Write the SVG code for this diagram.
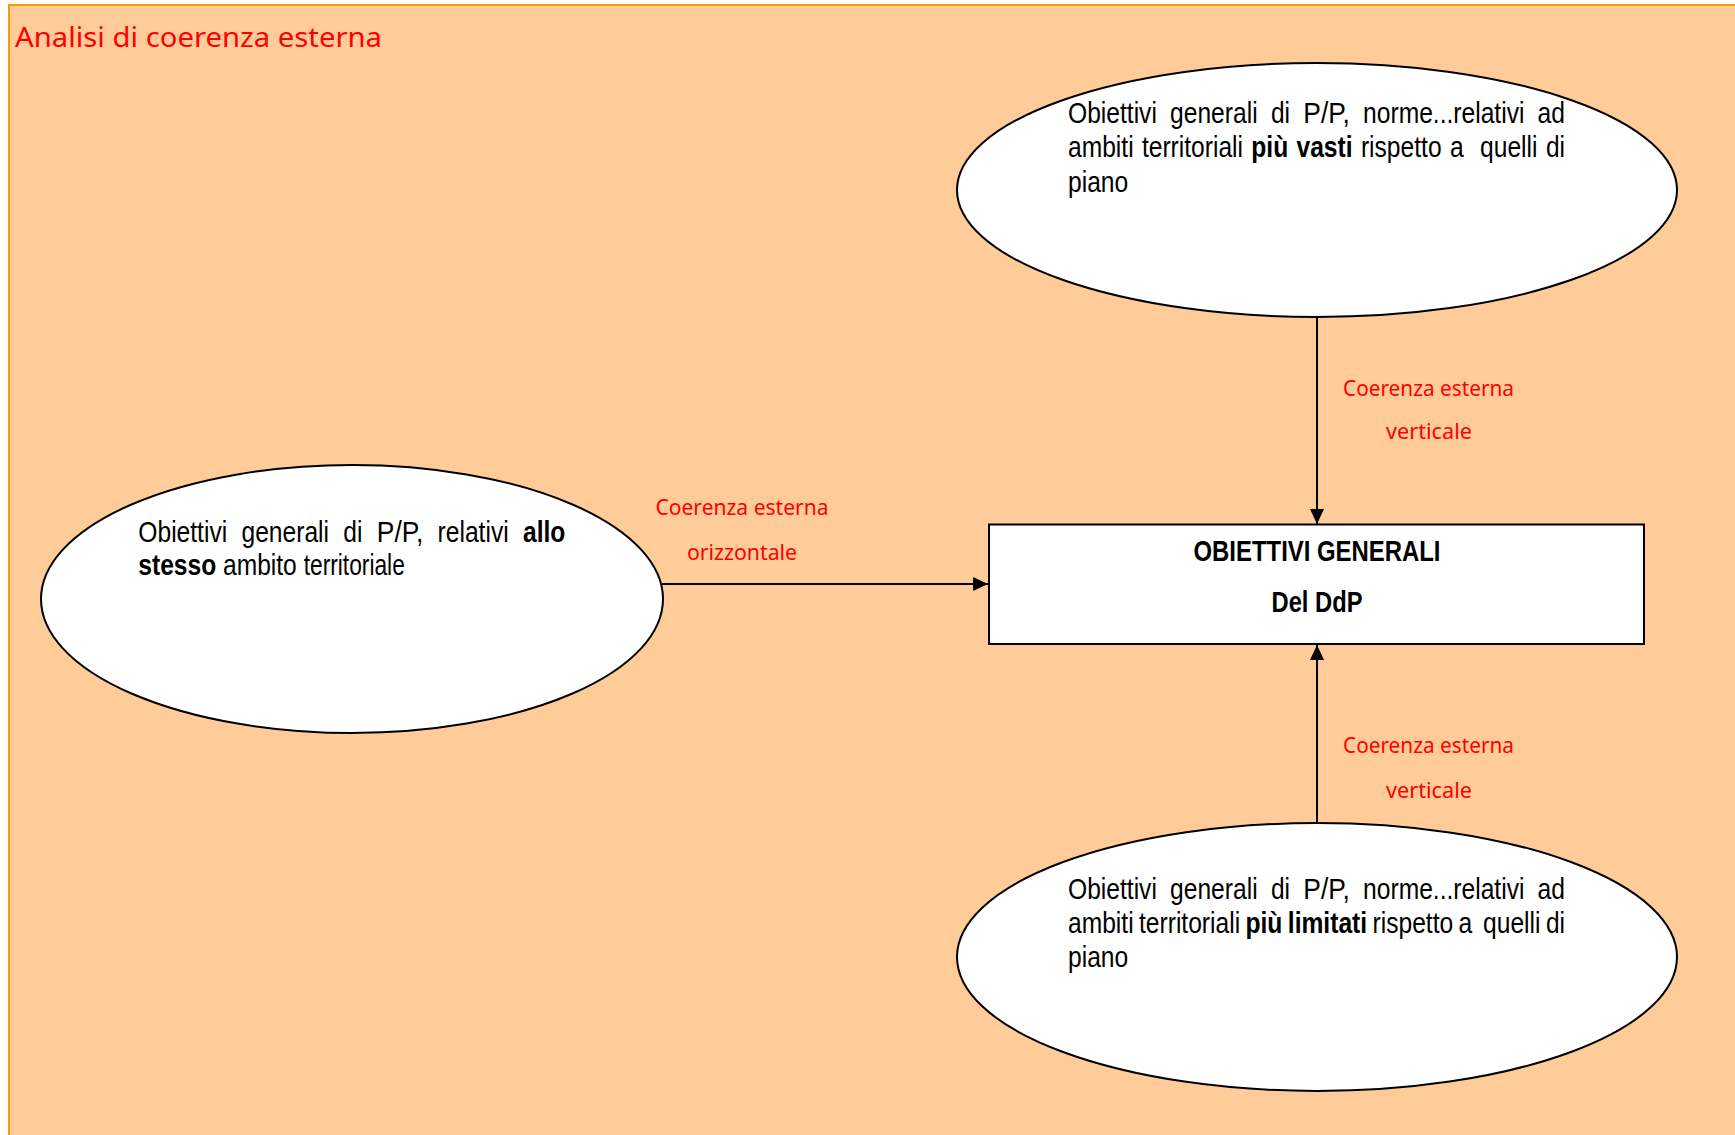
<svg xmlns="http://www.w3.org/2000/svg" width="1735" height="1135" viewBox="0 0 1735 1135">
<style>
.node{fill:#FFFFFF;stroke:#000000;stroke-width:2}
.body{font-family:"Liberation Sans Narrow","Arial Narrow","Liberation Sans",Arial,sans-serif;font-size:30px;fill:#000000}
.b{font-weight:bold}
.red{font-family:"Comic Sans MS","Noto Sans","DejaVu Sans",sans-serif;fill:#FF0000}
.lab{font-size:21px;text-anchor:middle}
.edge{stroke:#000000;stroke-width:2;fill:none;marker-end:url(#arr)}
</style>
<defs>
<marker id="arr" markerUnits="userSpaceOnUse" markerWidth="16" markerHeight="14" refX="15" refY="7" orient="auto">
<path d="M0,0 L15,7 L0,14 Z" fill="#000000"/>
</marker>
</defs>
<rect x="9" y="5" width="1740" height="1140" fill="#FFCC99" stroke="#FF9900" stroke-width="2"/>
<text class="red" x="15" y="47" font-size="28" textLength="367" lengthAdjust="spacingAndGlyphs">Analisi di coerenza esterna</text>

<g id="connectors">
<line class="edge" x1="1317" y1="317" x2="1317" y2="524"/>
<line class="edge" x1="1317" y1="823" x2="1317" y2="645"/>
<line class="edge" x1="662" y1="584" x2="988" y2="584"/>
<text class="red lab" x="1428.5" y="395.5" textLength="171" lengthAdjust="spacingAndGlyphs">Coerenza esterna</text>
<text class="red lab" x="1429" y="439" textLength="86" lengthAdjust="spacingAndGlyphs">verticale</text>
<text class="red lab" x="1428.5" y="753" textLength="171" lengthAdjust="spacingAndGlyphs">Coerenza esterna</text>
<text class="red lab" x="1429" y="798" textLength="86" lengthAdjust="spacingAndGlyphs">verticale</text>
<text class="red lab" x="742" y="515" textLength="173" lengthAdjust="spacingAndGlyphs">Coerenza esterna</text>
<text class="red lab" x="742" y="560" textLength="110" lengthAdjust="spacingAndGlyphs">orizzontale</text>
</g>

<g id="node-top">
<ellipse class="node" cx="1317" cy="190" rx="360" ry="127"/>
<text class="body" y="123" lengthAdjust="spacingAndGlyphs"><tspan x="1068" textLength="88.9" lengthAdjust="spacingAndGlyphs">Obiettivi</tspan><tspan x="1170.1" textLength="87.5" lengthAdjust="spacingAndGlyphs">generali</tspan><tspan x="1270.9" textLength="19.1" lengthAdjust="spacingAndGlyphs">di</tspan><tspan x="1303.3" textLength="46.5" lengthAdjust="spacingAndGlyphs">P/P,</tspan><tspan x="1363.1" textLength="161.3" lengthAdjust="spacingAndGlyphs">norme...relativi</tspan><tspan x="1537.6" textLength="27.4" lengthAdjust="spacingAndGlyphs">ad</tspan></text>
<text class="body" y="157"><tspan x="1068" textLength="65.6" lengthAdjust="spacingAndGlyphs">ambiti</tspan><tspan x="1141.9" textLength="101.1" lengthAdjust="spacingAndGlyphs">territoriali</tspan><tspan x="1251.3" class="b" textLength="36.9" lengthAdjust="spacingAndGlyphs">più</tspan><tspan x="1296.5" class="b" textLength="56.1" lengthAdjust="spacingAndGlyphs">vasti</tspan><tspan x="1360.9" textLength="80.7" lengthAdjust="spacingAndGlyphs">rispetto</tspan><tspan x="1449.9" textLength="13.7" lengthAdjust="spacingAndGlyphs">a</tspan><tspan x="1480.1" textLength="57.4" lengthAdjust="spacingAndGlyphs">quelli</tspan><tspan x="1545.9" textLength="19.1" lengthAdjust="spacingAndGlyphs">di</tspan></text>
<text class="body" x="1068" y="191.5" textLength="60.2" lengthAdjust="spacingAndGlyphs">piano</text>
</g>

<g id="node-left">
<ellipse class="node" cx="352" cy="599" rx="311" ry="134"/>
<text class="body" y="541.5"><tspan x="138.3" textLength="88.9" lengthAdjust="spacingAndGlyphs">Obiettivi</tspan><tspan x="241.5" textLength="87.5" lengthAdjust="spacingAndGlyphs">generali</tspan><tspan x="343.3" textLength="19.1" lengthAdjust="spacingAndGlyphs">di</tspan><tspan x="376.8" textLength="46.5" lengthAdjust="spacingAndGlyphs">P/P,</tspan><tspan x="437.6" textLength="71.1" lengthAdjust="spacingAndGlyphs">relativi</tspan><tspan x="523" class="b" textLength="42.4" lengthAdjust="spacingAndGlyphs">allo</tspan></text>
<text class="body" y="575"><tspan x="138.3" class="b" textLength="77.9" lengthAdjust="spacingAndGlyphs">stesso</tspan><tspan x="223" textLength="73.8" lengthAdjust="spacingAndGlyphs">ambito</tspan><tspan x="303.7" textLength="101.1" lengthAdjust="spacingAndGlyphs">territoriale</tspan></text>
</g>

<g id="node-center">
<rect class="node" x="989" y="524.5" width="655" height="119.5"/>
<text class="body b" x="1317" y="561" text-anchor="middle" font-size="29" textLength="247" lengthAdjust="spacingAndGlyphs">OBIETTIVI GENERALI</text>
<text class="body b" x="1317" y="612" text-anchor="middle" font-size="29" textLength="91" lengthAdjust="spacingAndGlyphs">Del DdP</text>
</g>

<g id="node-bottom">
<ellipse class="node" cx="1317" cy="957" rx="360" ry="134"/>
<text class="body" y="898.5"><tspan x="1068" textLength="88.9" lengthAdjust="spacingAndGlyphs">Obiettivi</tspan><tspan x="1170.1" textLength="87.5" lengthAdjust="spacingAndGlyphs">generali</tspan><tspan x="1270.9" textLength="19.1" lengthAdjust="spacingAndGlyphs">di</tspan><tspan x="1303.3" textLength="46.5" lengthAdjust="spacingAndGlyphs">P/P,</tspan><tspan x="1363.1" textLength="161.3" lengthAdjust="spacingAndGlyphs">norme...relativi</tspan><tspan x="1537.6" textLength="27.4" lengthAdjust="spacingAndGlyphs">ad</tspan></text>
<text class="body" y="933"><tspan x="1068" textLength="65.6" lengthAdjust="spacingAndGlyphs">ambiti</tspan><tspan x="1139" textLength="101.1" lengthAdjust="spacingAndGlyphs">territoriali</tspan><tspan x="1245.5" class="b" textLength="36.9" lengthAdjust="spacingAndGlyphs">più</tspan><tspan x="1287.8" class="b" textLength="79.3" lengthAdjust="spacingAndGlyphs">limitati</tspan><tspan x="1372.5" textLength="80.7" lengthAdjust="spacingAndGlyphs">rispetto</tspan><tspan x="1458.6" textLength="13.7" lengthAdjust="spacingAndGlyphs">a</tspan><tspan x="1483.1" textLength="57.4" lengthAdjust="spacingAndGlyphs">quelli</tspan><tspan x="1545.9" textLength="19.1" lengthAdjust="spacingAndGlyphs">di</tspan></text>
<text class="body" x="1068" y="967" textLength="60.2" lengthAdjust="spacingAndGlyphs">piano</text>
</g>
</svg>
